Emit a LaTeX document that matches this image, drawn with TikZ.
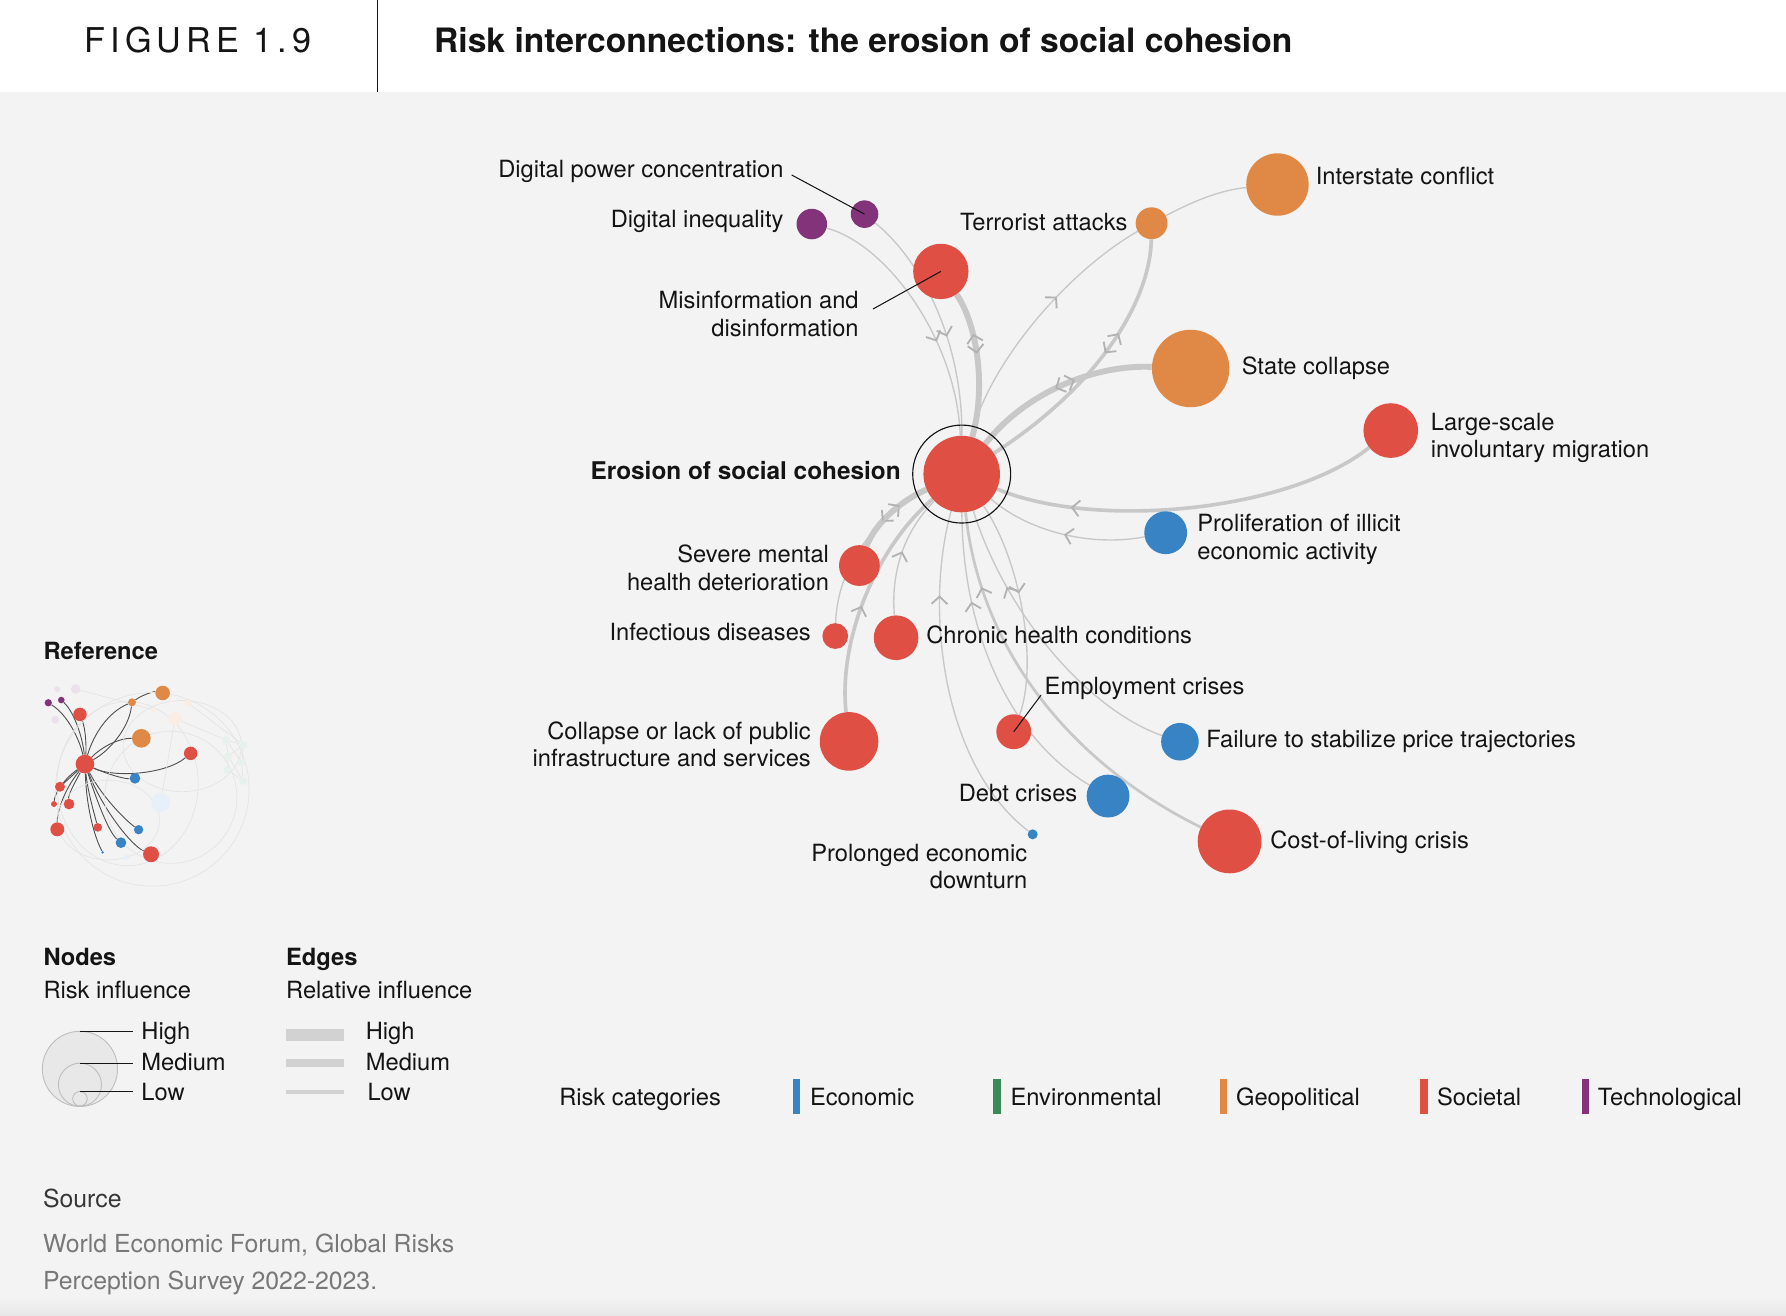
\documentclass[tikz,border=0pt]{standalone}
\usepackage{fontspec}
\setmainfont{TeX Gyre Heros}
\usetikzlibrary{arrows.meta,decorations.markings}
\pgfdeclarelayer{back}
\pgfdeclarelayer{edges}
\pgfsetlayers{back,edges,main}
\definecolor{soc}{RGB}{223,79,67}
\definecolor{geo}{RGB}{224,136,69}
\definecolor{eco}{RGB}{56,131,196}
\definecolor{tec}{RGB}{131,51,122}
\definecolor{env}{RGB}{58,138,88}
\definecolor{edgec}{RGB}{200,200,200}
\definecolor{arrc}{RGB}{178,178,178}
\definecolor{bgc}{RGB}{243,243,243}
\definecolor{bgd}{RGB}{232,232,232}
\definecolor{ink}{RGB}{20,20,20}
\definecolor{srcgray}{RGB}{120,120,120}
\definecolor{legf}{RGB}{232,232,232}
\definecolor{legd}{RGB}{190,190,190}
\definecolor{legbar}{RGB}{210,210,210}
\definecolor{faint}{RGB}{228,228,228}
\definecolor{minie}{RGB}{80,80,80}
\newcommand\lblfont{\fontsize{20.8}{24}\selectfont}
\newcommand\srcfont{\fontsize{21.8}{32}\selectfont}
\begin{document}
\begin{tikzpicture}[x=1pt,y=-1pt,
  risk/.style 2 args={circle,inner sep=0pt,fill=#1,minimum size=#2},
  lbl/.style={font=\lblfont,inner sep=0pt,text=ink},
  ethin/.style={draw=edgec,line width=1.2pt},
  emed/.style={draw=edgec,line width=3.2pt},
  emed2/.style={draw=edgec,line width=2.4pt},
  ethick/.style={draw=edgec,line width=5.2pt},
  chevron/.style={draw=arrc,line width=1.6pt,line join=miter},
  fw/.style={postaction={decorate,decoration={markings,mark=at position #1 with {\draw[chevron] (-6.5pt,7pt) -- (0pt,0pt) -- (-6.5pt,-7pt);}}}},
  bw/.style={postaction={decorate,decoration={markings,mark=at position #1 with {\draw[chevron] (6.5pt,7pt) -- (0pt,0pt) -- (6.5pt,-7pt);}}}},
  leader/.style={draw=ink,line width=0.9pt},
  mini/.style={draw=minie,line width=0.8pt},
  faintl/.style={draw=faint,line width=0.6pt},
]
\useasboundingbox (0,0) rectangle (1568,1155);
\begin{pgfonlayer}{back}
\fill[bgc] (0,0) rectangle (1568,1155);
\shade[top color=bgc,bottom color=bgd] (0,1138) rectangle (1568,1155);
\fill[white] (0,0) rectangle (1568,81);
\draw[ink,line width=0.9pt] (331,0) -- (331,81);
\end{pgfonlayer}

% header
\node[anchor=base west,inner sep=0pt,text=ink,font={\fontsize{30}{36}\selectfont\addfontfeature{LetterSpace=15}}] (fig) at (74,46) {FIGURE 1.9};
\node[anchor=base west,inner sep=0pt,text=ink,font={\fontsize{29.5}{36}\selectfont\bfseries}] (title) at (381,46) {Risk interconnections: the erosion of social cohesion};

% main nodes
\node[risk={soc}{67.2pt}] (ero) at (844.3,416.2) {};
\node[circle,draw=ink,line width=1pt,minimum size=86pt,inner sep=0pt] (ring) at (ero.center) {};
\node[risk={tec}{24.2pt}] (dpc) at (759,188) {};
\node[risk={tec}{26.8pt}] (dig) at (712.7,196.7) {};
\node[risk={soc}{48.6pt}] (mis) at (826,238.3) {};
\node[risk={geo}{28pt}] (ter) at (1011,196) {};
\node[risk={geo}{54.8pt}] (int) at (1121.5,162) {};
\node[risk={geo}{68pt}] (sta) at (1045.3,323.5) {};
\node[risk={soc}{48pt}] (mig) at (1221,378) {};
\node[risk={eco}{37.6pt}] (pro) at (1023.4,467.7) {};
\node[risk={soc}{35.8pt}] (sev) at (754.5,496.5) {};
\node[risk={soc}{22.6pt}] (inf) at (733.3,558.4) {};
\node[risk={soc}{39.2pt}] (chr) at (786.7,559.9) {};
\node[risk={soc}{51.4pt}] (col) at (745.4,650.9) {};
\node[risk={soc}{30.6pt}] (emp) at (890,642.4) {};
\node[risk={eco}{33pt}] (fai) at (1035.9,651.2) {};
\node[risk={eco}{37.6pt}] (deb) at (972.8,698.9) {};
\node[risk={eco}{8.8pt}] (prl) at (906.6,732.5) {};
\node[risk={soc}{56pt}] (cl) at (1079.5,738.7) {};

% edges
\begin{pgfonlayer}{edges}
\draw[ethin,fw=0.62] (dig) .. controls (780,215) and (840,300) .. (ero);
\draw[ethin,fw=0.57] (dpc) .. controls (810,230) and (845,300) .. (ero);
\draw[ethick,bw=0.3,fw=0.42] (mis) .. controls (858,285) and (866,340) .. (ero);
\draw[ethin,fw=0.61] (ero) .. controls (868,320) and (935,240) .. (ter);
\draw[emed,bw=0.37,fw=0.45] (ter) .. controls (1010,260) and (970,335) .. (ero);
\draw[ethick,bw=0.42,fw=0.52] (sta) .. controls (960,320) and (900,345) .. (ero);
\draw[ethin] (ter) .. controls (1045,178) and (1070,167) .. (int);
\draw[emed,fw=0.8] (mig) .. controls (1130,450) and (960,465) .. (ero);
\draw[ethin,fw=0.49] (pro) .. controls (960,480) and (905,468) .. (ero);
\draw[ethick,bw=0.36,fw=0.62] (sev) .. controls (768,460) and (790,440) .. (ero);
\draw[emed,fw=0.45] (col) .. controls (736,560) and (770,480) .. (ero);
\draw[ethin] (inf) .. controls (735,500) and (765,455) .. (ero);
\draw[ethin,fw=0.51] (chr) .. controls (782,500) and (795,465) .. (ero);
\draw[ethin,fw=0.75] (prl) .. controls (825,670) and (812,530) .. (ero);
\draw[ethin,fw=0.71] (deb) .. controls (890,650) and (845,560) .. (ero);
\draw[emed2,fw=0.81] (cl) .. controls (940,670) and (860,570) .. (ero);
\draw[ethin,fw=0.72] (fai) .. controls (960,625) and (885,545) .. (ero);
\draw[ethin,fw=0.43] (ero) .. controls (895,490) and (912,580) .. (emp);
\end{pgfonlayer}

% leader lines
\coordinate (ldpc) at (695,153.6);
\coordinate (lmis) at (766.4,271.3);
\coordinate (lemp) at (914,610.2);
\draw[leader] (ldpc) -- (dpc.center);
\draw[leader] (lmis) -- (mis.center);
\draw[leader] (lemp) -- (emp.center);

% labels
\node[lbl,anchor=base east] (t-dpc) at (688,156) {Digital power concentration};
\node[lbl,anchor=base east] (t-dig) at (688,200) {Digital inequality};
\node[lbl,anchor=base east] (t-mis1) at (754,271) {Misinformation and};
\node[lbl,anchor=base east] (t-mis2) at (754,295) {disinformation};
\node[lbl,anchor=base east] (t-ter) at (990,202) {Terrorist attacks};
\node[lbl,anchor=base west] (t-int) at (1155,162) {Interstate conflict};
\node[lbl,anchor=base west] (t-sta) at (1090,329) {State collapse};
\node[lbl,anchor=base west] (t-mig1) at (1256,378) {Large-scale};
\node[lbl,anchor=base west] (t-mig2) at (1256,402) {involuntary migration};
\node[lbl,anchor=base east,font={\fontsize{21.4}{24}\selectfont\bfseries}] (t-ero) at (791,421) {Erosion of social cohesion};
\node[lbl,anchor=base west] (t-pro1) at (1051,467) {Proliferation of illicit};
\node[lbl,anchor=base west] (t-pro2) at (1051,491) {economic activity};
\node[lbl,anchor=base east] (t-sev1) at (728,494) {Severe mental};
\node[lbl,anchor=base east] (t-sev2) at (728,518) {health deterioration};
\node[lbl,anchor=base east] (t-inf) at (712,562) {Infectious diseases};
\node[lbl,anchor=base west] (t-chr) at (813,565) {Chronic health conditions};
\node[lbl,anchor=base west] (t-emp) at (917,610) {Employment crises};
\node[lbl,anchor=base east] (t-col1) at (712,649) {Collapse or lack of public};
\node[lbl,anchor=base east] (t-col2) at (712,673) {infrastructure and services};
\node[lbl,anchor=base west] (t-fai) at (1059,656) {Failure to stabilize price trajectories};
\node[lbl,anchor=base east] (t-deb) at (946,704) {Debt crises};
\node[lbl,anchor=base west] (t-cl) at (1115,745) {Cost-of-living crisis};
\node[lbl,anchor=base east] (t-prl1) at (902,756) {Prolonged economic};
\node[lbl,anchor=base east] (t-prl2) at (902,780) {downturn};

% ---------- Reference mini map ----------
\node[lbl,anchor=base west,font=\lblfont\bfseries] (t-ref) at (38,579) {Reference};
\draw[faintl] (133.7,693) circle (85);
\draw[faintl] (150,700) circle (58);
\draw[faintl] (112,688) ellipse (62 and 72);
\draw[faintl] (160,655) ellipse (52 and 40);
\draw[faintl] (95,720) ellipse (45 and 35);
\node[risk={tec!15}{5.2pt}] (f1) at (50.3,605.1) {};
\node[risk={tec!15}{8.2pt}] (f2) at (66.4,604.9) {};
\node[risk={tec!15}{7pt}] (f3) at (48.6,631.9) {};
\node[risk={geo!15}{4.6pt}] (f4) at (135.2,623.2) {};
\node[risk={geo!15}{11.8pt}] (f5) at (153.6,630.8) {};
\node[risk={geo!15}{6.4pt}] (f6) at (165.4,617.5) {};
\node[risk={env!12}{7pt}] (g1) at (198.4,649.6) {};
\node[risk={env!12}{7pt}] (g2) at (213.9,654.1) {};
\node[risk={env!12}{7pt}] (g3) at (200.2,663.7) {};
\node[risk={env!12}{7pt}] (g4) at (212.2,669.2) {};
\node[risk={env!12}{7pt}] (g5) at (199.9,675.9) {};
\node[risk={env!12}{7pt}] (g6) at (213.3,685.6) {};
\node[risk={eco!12}{16.4pt}] (f7) at (141.1,704.6) {};
\node[risk={eco!12}{5.2pt}] (f8) at (111.2,752.5) {};
\draw[faintl] (g1) -- (g2) -- (g4) -- (g6) -- (g5) -- (g3) -- (g1) -- (g4) (g2) -- (g3) -- (g6);
\draw[faintl] (f5) -- (g1) (f5) -- (f7) (f6) -- (g2) (f2) -- (f4);

\node[risk={soc}{16.4pt}] (mero) at (74.6,670.8) {};
\node[risk={tec}{6.4pt}] (mp1) at (42.4,617) {};
\node[risk={tec}{5.8pt}] (mp2) at (53.8,614.6) {};
\node[risk={soc}{11.8pt}] (mmis) at (70.2,627.2) {};
\node[risk={geo}{7pt}] (mter) at (115.9,616.6) {};
\node[risk={geo}{12.8pt}] (mint) at (142.8,608.4) {};
\node[risk={geo}{16.4pt}] (msta) at (124.1,648.2) {};
\node[risk={soc}{11.8pt}] (mmig) at (167.4,661.4) {};
\node[risk={eco}{9.4pt}] (mpro) at (118.5,683.3) {};
\node[risk={soc}{8.8pt}] (msev) at (52.7,690.7) {};
\node[risk={soc}{5.2pt}] (minf) at (47.4,705.9) {};
\node[risk={soc}{9.4pt}] (mchr) at (60.6,705.9) {};
\node[risk={soc}{12.2pt}] (mcol) at (50.3,728.1) {};
\node[risk={soc}{7.6pt}] (memp) at (85.8,726.4) {};
\node[risk={eco}{8.2pt}] (mfai) at (121.7,728.4) {};
\node[risk={eco}{9.4pt}] (mdeb) at (106.2,739.8) {};
\node[risk={eco}{2.4pt}] (mprl) at (90.1,748.3) {};
\node[risk={soc}{14pt}] (mcl) at (132.6,750) {};
\begin{pgfonlayer}{edges}
\draw[mini] (mero) .. controls (70,650) and (60,628) .. (mp1);
\draw[mini] (mero) .. controls (73,650) and (66,626) .. (mp2);
\draw[mini] (mero) .. controls (76,655) and (75,640) .. (mmis);
\draw[mini] (mero) .. controls (82,645) and (95,625) .. (mter);
\draw[mini] (mter) .. controls (113,640) and (95,660) .. (mero);
\draw[mini] (mter) .. controls (125,610) and (135,607) .. (mint);
\draw[mini] (mero) .. controls (90,655) and (105,648) .. (msta);
\draw[mini] (mero) .. controls (100,683) and (145,680) .. (mmig);
\draw[mini] (mero) .. controls (95,680) and (110,684) .. (mpro);
\draw[mini] (mero) -- (msev);
\draw[mini] (mero) .. controls (55,685) and (48,697) .. (minf);
\draw[mini] (mero) .. controls (64,690) and (60,698) .. (mchr);
\draw[mini] (mero) .. controls (55,695) and (50,715) .. (mcol);
\draw[mini] (mero) .. controls (77,695) and (83,715) .. (memp);
\draw[mini] (mero) .. controls (90,700) and (110,720) .. (mfai);
\draw[mini] (mero) .. controls (84,700) and (95,730) .. (mdeb);
\draw[mini] (mero) .. controls (76,710) and (83,735) .. (mprl);
\draw[mini] (mero) .. controls (90,710) and (115,742) .. (mcl);
\end{pgfonlayer}

% ---------- Nodes legend ----------
\node[lbl,anchor=base west,font=\lblfont\bfseries] (t-nodes) at (38,848) {Nodes};
\node[lbl,anchor=base west] (t-ri) at (38,877) {Risk influence};
\node[circle,fill=legf,draw=legd,line width=0.8pt,minimum size=66pt,inner sep=0pt] (lg-h) at (70.2,938.4) {};
\node[circle,draw=legd,line width=0.8pt,minimum size=37.8pt,inner sep=0pt] (lg-m) at (70.2,952.3) {};
\node[circle,draw=legd,line width=0.8pt,minimum size=12.8pt,inner sep=0pt] (lg-l) at (70.2,964.6) {};
\coordinate (lh1) at (70,905.2); \coordinate (lh2) at (117,905.2);
\coordinate (lm1) at (70,933.5); \coordinate (lm2) at (117,933.5);
\coordinate (ll1) at (70,958.2); \coordinate (ll2) at (117,958.2);
\draw[leader] (lh1) -- (lh2);
\draw[leader] (lm1) -- (lm2);
\draw[leader] (ll1) -- (ll2);
\node[lbl,anchor=base west] (t-nh) at (124,913) {High};
\node[lbl,anchor=base west] (t-nm) at (124,939.5) {Medium};
\node[lbl,anchor=base west] (t-nl) at (124,966) {Low};

% ---------- Edges legend ----------
\node[lbl,anchor=base west,font=\lblfont\bfseries] (t-edges) at (251,848) {Edges};
\node[lbl,anchor=base west] (t-rel) at (251,877) {Relative influence};
\fill[legbar] (251,903.7) rectangle (302,913.7);
\fill[legbar] (251,929.5) rectangle (302,936.5);
\fill[legbar] (251,957) rectangle (302,960.5);
\node[lbl,anchor=base west] (t-eh) at (321,913) {High};
\node[lbl,anchor=base west] (t-em) at (321,939.5) {Medium};
\node[lbl,anchor=base west] (t-el) at (322.5,966) {Low};

% ---------- Risk categories ----------
\node[lbl,anchor=base west] (t-rc) at (490.8,970.7) {Risk categories};
\fill[eco] (696,947.3) rectangle (702.6,978.3);
\fill[env] (872,947.3) rectangle (878.6,978.3);
\fill[geo] (1070.7,947.3) rectangle (1077.3,978.3);
\fill[soc] (1247,947.3) rectangle (1253.6,978.3);
\fill[tec] (1388.5,947.3) rectangle (1395.1,978.3);
\node[lbl,anchor=base west] (t-eco) at (711,970.7) {Economic};
\node[lbl,anchor=base west] (t-env) at (887,970.7) {Environmental};
\node[lbl,anchor=base west] (t-geo) at (1085,970.7) {Geopolitical};
\node[lbl,anchor=base west] (t-soc) at (1261.5,970.7) {Societal};
\node[lbl,anchor=base west] (t-tec) at (1402.6,970.7) {Technological};

% ---------- Source ----------
\node[anchor=base west,inner sep=0pt,font=\srcfont,text=ink!85] (t-src) at (37.6,1060.3) {Source};
\node[anchor=base west,inner sep=0pt,font=\srcfont,text=srcgray] (t-src1) at (37.6,1099.5) {World Economic Forum, Global Risks};
\node[anchor=base west,inner sep=0pt,font=\srcfont,text=srcgray] (t-src2) at (37.6,1131.7) {Perception Survey 2022-2023.};
\end{tikzpicture}
\end{document}
